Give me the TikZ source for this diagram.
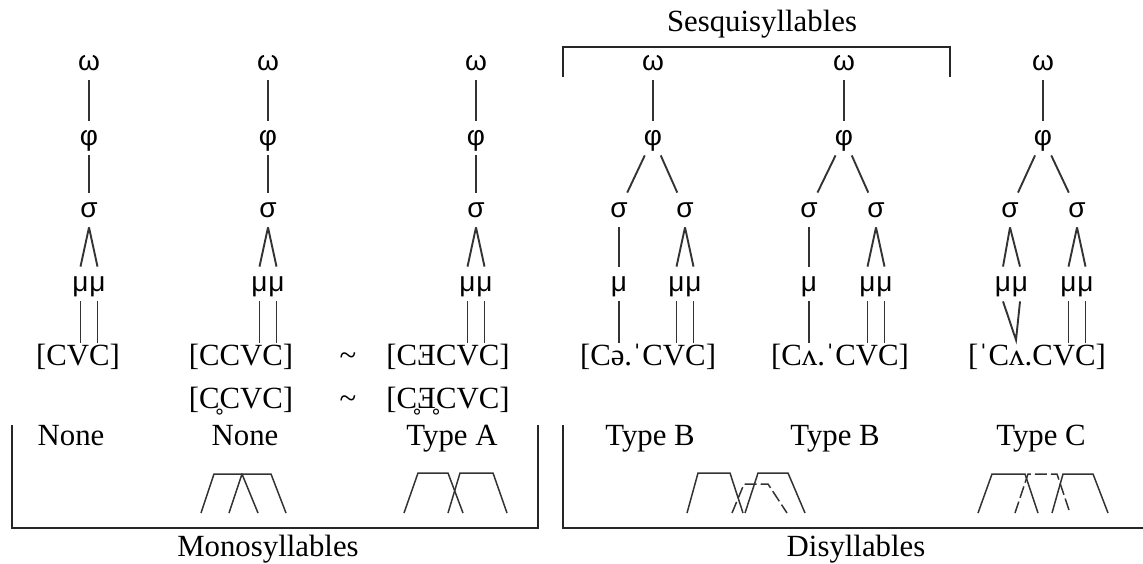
\documentclass[tikz,border=0pt]{standalone}
\usepackage{fontspec}
\setmainfont{Liberation Serif}
\newfontfamily\greekfont{Liberation Sans}
\usetikzlibrary{positioning, calc}

\begin{document}
\begin{tikzpicture}[x=0.5pt, y=-0.5pt,
      every node/.style={font=\fontsize{15.4}{18}\selectfont, inner sep=0pt},
      lvl/.style={font=\fontsize{14}{16}\selectfont\greekfont,
                  text height=7.3pt, text depth=0pt, minimum height=17pt},
      form/.style={text height=11pt, text depth=3pt},
      tln/.style={line width=0.95pt, black!80},
      brk/.style={line width=0.95pt, black!85},
      gst/.style={line width=0.75pt, black!80},
      gdash/.style={gst, dash pattern=on 6pt off 2pt},
    ]
      \useasboundingbox (0,0) rectangle (1143,563);
      % Monosyllables: three one-syllable trees
      \foreach \c/\n in {89/1, 268/2, 476/3} {
        \node[lvl] (w\n) at (\c,63) {ω};
        \node[lvl] (p\n) at (\c,138) {φ};
        \node[lvl] (s\n) at (\c,210) {σ};
        \node[lvl] (m\n a) at (\c-8.5,284) {μ};
        \node[lvl] (m\n b) at (\c+8.5,284) {μ};
        \draw[tln] (w\n) -- (p\n);
        \draw[tln] (p\n) -- (s\n);
        \draw[tln] (s\n.south) -- (m\n a.north);
        \draw[tln] (s\n.south) -- (m\n b.north);
      }
      \node[form] (f1) at (78,357) {[CVC]};
      \node[form] (f2) at (241,357) {[CCVC]};
      \node[form] (t1) at (348,357) {\textasciitilde};
      \node[form] (f3) at (448,357) {[CƎCVC]};
      \node[form] (g2) at (241,400) {[C̥CVC]};
      \node[form] (t2) at (348,400) {\textasciitilde};
      \node[form] (g3) at (448,400) {[C̥Ǝ̥CVC]};
      \draw[tln] (m1a.south) -- (m1a.south |- f1.north);
      \draw[tln] (m1b.south) -- (m1b.south |- f1.north);
      \draw[tln] (m2a.south) -- (m2a.south |- f2.north);
      \draw[tln] (m2b.south) -- (m2b.south |- f2.north);
      \draw[tln] (m3a.south) -- (m3a.south |- f3.north);
      \draw[tln] (m3b.south) -- (m3b.south |- f3.north);
      % Sesquisyllable, first tree
      \node[lvl] (w4) at (653,63) {ω};
      \node[lvl] (p4) at (653,138) {φ};
      \node[lvl] (s4a) at (619,210) {σ};
      \node[lvl] (s4b) at (685,210) {σ};
      \node[lvl] (m4a) at (619,284) {μ};
      \node[lvl] (m4b) at (676.5,284) {μ};
      \node[lvl] (m4c) at (693.5,284) {μ};
      \node[form] (f4) at (648,357) {[Cə.ˈCVC]};
      \draw[tln] (w4) -- (p4);
      \draw[tln] (p4) -- (s4a);
      \draw[tln] (p4) -- (s4b);
      \draw[tln] (s4a) -- (m4a);
      \draw[tln] (s4b.south) -- (m4b.north);
      \draw[tln] (s4b.south) -- (m4c.north);
      \draw[tln] (m4a.south) -- (m4a.south |- f4.north);
      \draw[tln] (m4b.south) -- (m4b.south |- f4.north);
      \draw[tln] (m4c.south) -- (m4c.south |- f4.north);
      % Sesquisyllable, second tree
      \node[lvl] (w5) at (844,63) {ω};
      \node[lvl] (p5) at (844,138) {φ};
      \node[lvl] (s5a) at (809,210) {σ};
      \node[lvl] (s5b) at (876,210) {σ};
      \node[lvl] (m5a) at (809,284) {μ};
      \node[lvl] (m5b) at (867.5,284) {μ};
      \node[lvl] (m5c) at (884.5,284) {μ};
      \node[form] (f5) at (840,357) {[Cʌ.ˈCVC]};
      \draw[tln] (w5) -- (p5);
      \draw[tln] (p5) -- (s5a);
      \draw[tln] (p5) -- (s5b);
      \draw[tln] (s5a) -- (m5a);
      \draw[tln] (s5b.south) -- (m5b.north);
      \draw[tln] (s5b.south) -- (m5c.north);
      \draw[tln] (m5a.south) -- (m5a.south |- f5.north);
      \draw[tln] (m5b.south) -- (m5b.south |- f5.north);
      \draw[tln] (m5c.south) -- (m5c.south |- f5.north);
      % Full disyllable
      \node[lvl] (w6) at (1043,63) {ω};
      \node[lvl] (p6) at (1043,138) {φ};
      \node[lvl] (s6a) at (1010,210) {σ};
      \node[lvl] (s6b) at (1077,210) {σ};
      \node[lvl] (m6a) at (1003,284) {μ};
      \node[lvl] (m6b) at (1020,284) {μ};
      \node[lvl] (m6c) at (1068.5,284) {μ};
      \node[lvl] (m6d) at (1085.5,284) {μ};
      \node[form] (f6) at (1037,357) {[ˈCʌ.CVC]};
      \coordinate (v6) at (1016,340);
      \draw[tln] (w6) -- (p6);
      \draw[tln] (p6) -- (s6a);
      \draw[tln] (p6) -- (s6b);
      \draw[tln] (s6a.south) -- (m6a.north);
      \draw[tln] (s6a.south) -- (m6b.north);
      \draw[tln] (s6b.south) -- (m6c.north);
      \draw[tln] (s6b.south) -- (m6d.north);
      \draw[tln] (m6a.south) -- (v6) -- (m6b.south);
      \draw[tln] (m6c.south) -- (m6c.south |- f6.north);
      \draw[tln] (m6d.south) -- (m6d.south |- f6.north);
      % Sesquisyllables bracket
      \node[form] (sesq) at (762,23) {Sesquisyllables};
      \draw[brk] (563,77) -- (563,47) -- (950,47) -- (950,77);
      % Type labels
      \node[form] (ty1) at (71,437) {None};
      \node[form] (ty2) at (245,437) {None};
      \node[form] (ty3) at (452,437) {Type A};
      \node[form] (ty4) at (650,437) {Type B};
      \node[form] (ty5) at (835,437) {Type B};
      \node[form] (ty6) at (1041,437) {Type C};
      % Gestures
      \draw[gst] (201,513) -- (214,474) -- (242,474) -- (258,513);
      \draw[gst] (229,513) -- (242,474) -- (271,474) -- (286,513);
      \draw[gst] (404,513) -- (418,473) -- (448,473) -- (463,513);
      \draw[gst] (448,513) -- (460,473) -- (493,473) -- (507,513);
      \draw[gst] (687,513) -- (698,473) -- (730,473) -- (743,513);
      \draw[gst] (745,513) -- (758,473) -- (788,473) -- (805,513);
      \draw[gdash] (732,513) -- (744,484) -- (768,484) -- (787,513);
      \draw[gst] (978,513) -- (992,474) -- (1025,474) -- (1038,513);
      \draw[gdash] (1015,513) -- (1028,474) -- (1057,474) -- (1070,513);
      \draw[gst] (1052,513) -- (1063,474) -- (1093,474) -- (1108,513);
      % Bottom brackets
      \draw[brk] (12,425) -- (12,528) -- (538,528) -- (538,425);
      \draw[brk] (563,425) -- (563,528) -- (1143,528);
      \node[form] (mono) at (268,548) {Monosyllables};
      \node[form] (disy) at (856,548) {Disyllables};
    \end{tikzpicture}
\end{document}
